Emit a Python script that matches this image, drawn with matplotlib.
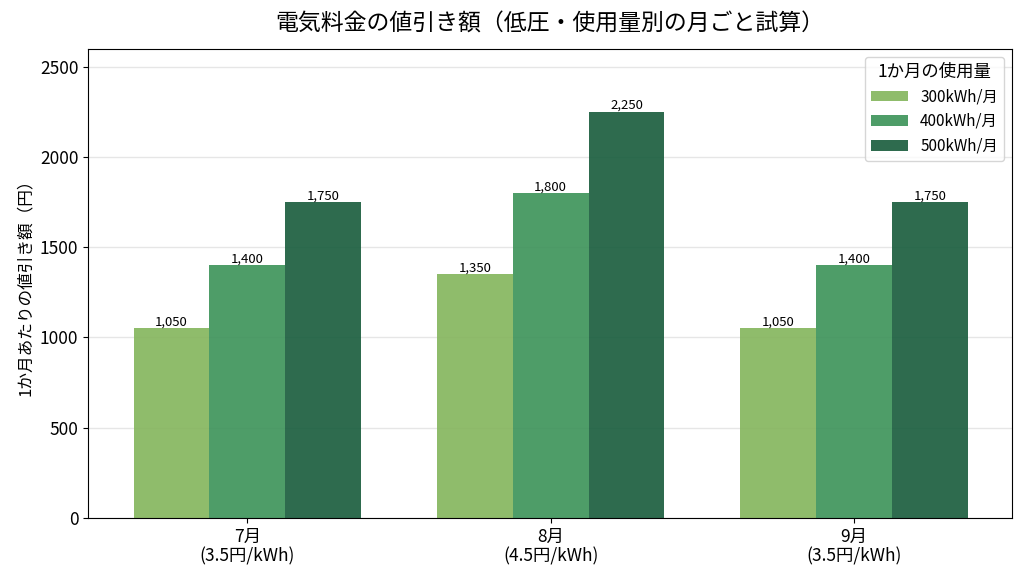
import matplotlib
matplotlib.use('Agg')
import matplotlib.pyplot as plt
import numpy as np

plt.rcParams['font.family'] = ['Noto Sans CJK JP', 'DejaVu Sans']

# data
months = ['7月\n(3.5円/kWh)', '8月\n(4.5円/kWh)', '9月\n(3.5円/kWh)']
series = ['300kWh/月', '400kWh/月', '500kWh/月']
v300 = [1050, 1350, 1050]
v400 = [1400, 1800, 1400]
v500 = [1750, 2250, 1750]
colors = ['#83b55b', '#3b9258', '#175b3b']

fig, ax = plt.subplots(figsize=(10.24, 5.83), dpi=100)
x = np.arange(len(months))
w = 0.25
for i, (vals, lab, c) in enumerate(zip([v300, v400, v500], series, colors)):
    bars = ax.bar(x + (i - 1) * w, vals, w, color=c, label=lab, alpha=0.9, zorder=2)
    for b, v in zip(bars, vals):
        ax.text(b.get_x() + b.get_width() / 2, v, f'{v:,}', ha='center', va='bottom', fontsize=9.5)

ax.set_xticks(x)
ax.set_xticklabels(months, fontsize=12.5, linespacing=1.1)
ax.set_xlim(-0.525, 2.52)
ax.set_ylim(0, 2600)
ax.tick_params(axis='y', labelsize=12.5)
ax.set_ylabel('1か月あたりの値引き額（円）', fontsize=12)
ax.set_title('電気料金の値引き額（低圧・使用量別の月ごと試算）', fontsize=16.5, pad=13)
ax.yaxis.grid(True, color='#e6e6e6', lw=1, zorder=0)
ax.set_axisbelow(True)
leg = ax.legend(title='1か月の使用量', fontsize=11, title_fontsize=12.5, loc='upper right',
                handlelength=2.4)

plt.subplots_adjust(left=0.086, right=0.988, top=0.916, bottom=0.112)
plt.savefig('out.png', dpi=100)
